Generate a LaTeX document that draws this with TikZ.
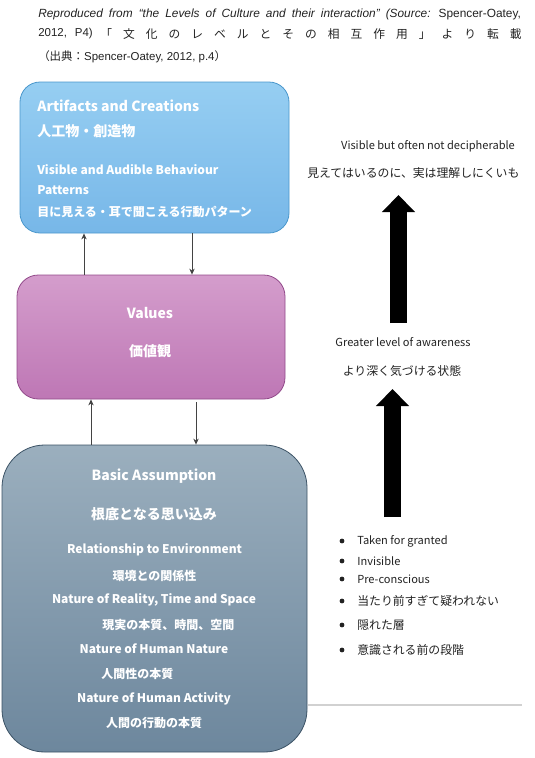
\documentclass[tikz,border=0pt]{standalone}
\usepackage{fontspec}
\setmainfont{Noto Sans CJK JP}
\newfontfamily\latfont{Liberation Sans}
\usetikzlibrary{arrows.meta}

\definecolor{artTop}{HTML}{96CEF2}
\definecolor{artBot}{HTML}{77B7E8}
\definecolor{artLine}{HTML}{4A97CC}
\definecolor{valTop}{HTML}{D49DCC}
\definecolor{valBot}{HTML}{BE77B5}
\definecolor{valLine}{HTML}{924A8A}
\definecolor{basTop}{HTML}{9BAFBE}
\definecolor{basBot}{HTML}{6D879D}
\definecolor{basLine}{HTML}{3B5265}
\definecolor{ink}{HTML}{222222}

\begin{document}
\begin{tikzpicture}[x=0.75pt,y=-0.75pt,>={Stealth[length=4.5pt,width=4pt]}]
  \tikzstyle{layer}=[draw, rectangle, line width=0.6pt, inner sep=0pt]
  \tikzstyle{head}=[text=white, font=\bfseries\fontsize{10.5}{12}\selectfont, inner sep=0pt]
  \tikzstyle{item}=[text=white, font=\bfseries\fontsize{9}{11}\selectfont, inner sep=0pt]
  \tikzstyle{note}=[text=ink, font=\fontsize{8.3}{10}\selectfont, inner sep=0pt]
  \tikzstyle{dot}=[circle, fill=ink, inner sep=0pt, minimum size=3.6pt]
  \tikzstyle{link}=[->, draw=ink!85, line width=0.6pt]
  \tikzstyle{bigarrow}=[-{Triangle[length=12.75pt,width=24pt]}, line width=12.75pt]
  \useasboundingbox (0,0) rectangle (535,758);

  % header
  \node[note, anchor=west, font=\fontsize{8.9}{10}\selectfont] (src1) at (38,14)
    {\makebox[362pt][s]{{\latfont\itshape Reproduced from “the Levels of Culture and their interaction” (Source:} {\latfont Spencer-Oatey,}}};
  \node[note, anchor=west, font=\fontsize{8.6}{10}\selectfont] (src2) at (38,34) {\latfont 2012,\hspace{6pt}P4)};
  \node[note, anchor=west, font=\fontsize{8.8}{10}\selectfont] (src3) at (100,34)
    {\makebox[316pt][s]{「 文 化 の レ ベ ル と そ の 相 互 作 用 」 よ り 転 載}};
  \node[note, anchor=west, font=\fontsize{8.6}{10}\selectfont] (src4) at (38,57)
    {（出典：{\latfont Spencer-Oatey, 2012, p.4}）};

  % layers
  \node[layer, draw=artLine, top color=artTop, bottom color=artBot, rounded corners=15pt,
    minimum width=201.75pt, minimum height=113.25pt] (art) at (154.5,157.5) {};
  \node[layer, draw=valLine, top color=valTop, bottom color=valBot, rounded corners=16pt,
    minimum width=201pt, minimum height=93pt] (values) at (151,337) {};
  \node[layer, draw=basLine, top color=basTop, bottom color=basBot, rounded corners=32pt,
    minimum width=228.75pt, minimum height=230.25pt] (basic) at (154.5,598.5) {};

  \node[head, anchor=west] (art1) at (37,106) {Artifacts and Creations};
  \node[head, anchor=west] (art2) at (37,131) {人工物・創造物};
  \node[item, anchor=west] (art3) at (37,170) {Visible and Audible Behaviour};
  \node[item, anchor=west] (art4) at (37,190) {Patterns};
  \node[item, anchor=west] (art5) at (37,212) {目に見える・耳で聞こえる行動パターン};

  \node[head] (val1) at (150,313) {Values};
  \node[head] (val2) at (150,351) {価値観};

  \node[head] (bas1) at (154,476) {Basic Assumption};
  \node[head] (bas2) at (154,514) {根底となる思い込み};
  \node[item] (bas3) at (154.5,550) {Relationship to Environment};
  \node[item] (bas4) at (154.5,576) {環境との関係性};
  \node[item] (bas5) at (154,600) {Nature of Reality, Time and Space};
  \node[item, anchor=west] (bas6) at (102,625) {現実の本質、時間、空間};
  \node[item] (bas7) at (154,649) {Nature of Human Nature};
  \node[item, anchor=west] (bas8) at (101,674) {人間性の本質};
  \node[item] (bas9) at (154,699) {Nature of Human Activity};
  \node[item] (bas10) at (154,723) {人間の行動の本質};

  % links between layers
  \coordinate (up1) at (84,0);
  \coordinate (dn1) at (192,0);
  \coordinate (up2) at (91,0);
  \coordinate (dn2) at (196,0);
  \draw[link] (values.north -| up1) -- (art.south -| up1);
  \draw[link] (art.south -| dn1) -- (values.north -| dn1);
  \draw[link] (basic.north -| up2) -- (values.south -| up2);
  \draw[link] ([yshift=-2pt]values.south -| dn2) -- (basic.north -| dn2);

  % right side
  \node[note] (vis1) at (428,146) {Visible but often not decipherable};
  \node[note, anchor=west, font=\fontsize{8.9}{10}\selectfont] (vis2) at (307,173) {見えてはいるのに、実は理解しにくいも};
  \node[note] (aw1) at (403,342) {Greater level of awareness};
  \node[note, font=\fontsize{8.9}{10}\selectfont] (aw2) at (402,371) {より深く気づける状態};

  \coordinate (a1bot) at (398.5,323);
  \coordinate (a1top) at (398.5,195);
  \coordinate (a2bot) at (392.5,517);
  \coordinate (a2top) at (392.5,389);
  \draw[bigarrow] (a1bot) -- (a1top);
  \draw[bigarrow] (a2bot) -- (a2top);

  \node[dot] (b1) at (342,541) {};
  \node[note, anchor=west] (t1) at (357,541) {Taken for granted};
  \node[dot] (b2) at (342,561) {};
  \node[note, anchor=west] (t2) at (357,561) {Invisible};
  \node[dot] (b3) at (342,579) {};
  \node[note, anchor=west] (t3) at (357,579) {Pre-conscious};
  \node[dot] (b4) at (342,601) {};
  \node[note, anchor=west, font=\fontsize{8.9}{10}\selectfont] (t4) at (357,601) {当たり前すぎて疑われない};
  \node[dot] (b5) at (342,625) {};
  \node[note, anchor=west, font=\fontsize{8.9}{10}\selectfont] (t5) at (357,625) {隠れた層};
  \node[dot] (b6) at (342,650) {};
  \node[note, anchor=west, font=\fontsize{8.9}{10}\selectfont] (t6) at (357,650) {意識される前の段階};

  \draw[black!18, line width=0.8pt] (308,705) -- (522,705);
\end{tikzpicture}
\end{document}
